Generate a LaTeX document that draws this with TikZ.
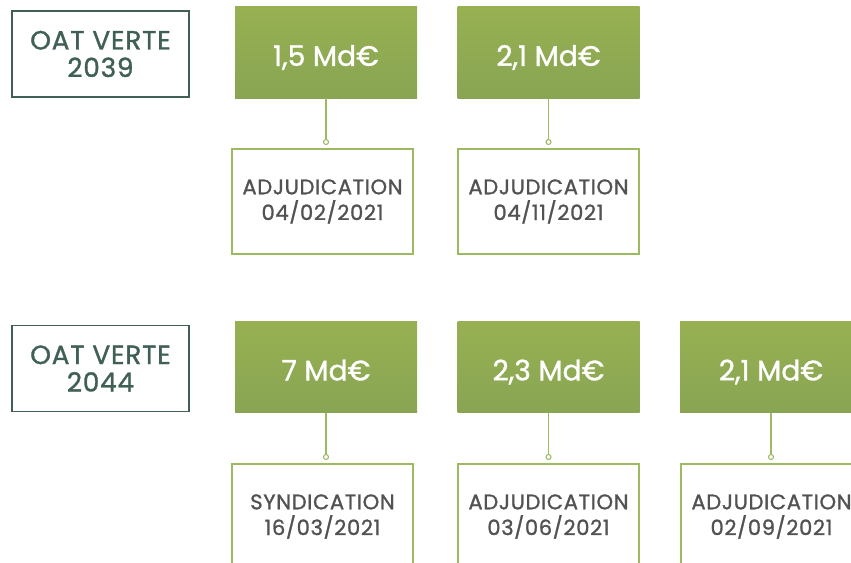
\documentclass[tikz,border=0pt]{standalone}
\usepackage{fontspec}
\setmainfont{Poppins}[FakeBold=1.2]
\newfontfamily\spacedfont{Poppins}[FakeBold=1.2,LetterSpace=3]
\definecolor{oatteal}{HTML}{3F5F57}
\definecolor{greentop}{HTML}{97B052}
\definecolor{greenbot}{HTML}{89A553}
\definecolor{greenline}{HTML}{9CBA62}
\definecolor{textgray}{HTML}{525252}

\begin{document}
\begin{tikzpicture}[x=0.03cm, y=-0.03cm,
		oat_style/.style={draw=oatteal,line width=1.6pt,text=oatteal,minimum width=5.31cm,minimum height=2.58cm,align=center,font=\spacedfont\fontsize{22.5}{23.5}\selectfont},
		amount_style/.style={top color=greentop,bottom color=greenbot,draw=none,text=white,minimum width=5.46cm,minimum height=2.73cm,text height=0.9cm,text depth=0.1cm,font=\fontsize{24}{26}\selectfont},
		op_style/.style={draw=greenline,line width=1pt,fill=white,text=textgray,minimum width=5.43cm,minimum height=3.15cm,align=center,font=\spacedfont\fontsize{18}{22}\selectfont},
		dot_style/.style={circle,draw=greenline,fill=white,line width=0.9pt,inner sep=0pt,minimum size=0.15cm},
		edge_style/.style={draw=greenline,line width=1.4pt}]
		
		\useasboundingbox (0,0) rectangle (851,562);
		\clip (0,0) rectangle (851,562);
		
		% OAT verte 2039
		\node[oat_style] (o1) at (100.5,54)  {OAT VERTE\\2039};
		\node[amount_style] (a1) at (326,52.5)  {1,5 Md€};
		\node[amount_style] (a2) at (548.5,52.5)  {2,1 Md€};
		\node[op_style] (p1) at (322.5,201.5)  {ADJUDICATION\\04/02/2021};
		\node[op_style] (p2) at (548.5,201.5)  {ADJUDICATION\\04/11/2021};
		\node[dot_style] (d1) at (326,142)  {};
		\node[dot_style] (d2) at (548.5,142)  {};
		
		% OAT verte 2044
		\node[oat_style] (o2) at (100.5,368.5)  {OAT VERTE\\2044};
		\node[amount_style] (a3) at (326,367)  {7 Md€};
		\node[amount_style] (a4) at (548.5,367)  {2,3 Md€};
		\node[amount_style] (a5) at (771,367)  {2,1 Md€};
		\node[op_style] (p3) at (322.5,516.5)  {SYNDICATION\\16/03/2021};
		\node[op_style] (p4) at (548.5,516.5)  {ADJUDICATION\\03/06/2021};
		\node[op_style] (p5) at (771.5,516.5)  {ADJUDICATION\\02/09/2021};
		\node[dot_style] (d3) at (326,457)  {};
		\node[dot_style] (d4) at (548.5,457)  {};
		\node[dot_style] (d5) at (771,457)  {};
		
		\draw[edge_style]  (a1) edge (d1);
		\draw[edge_style]  (a2) edge (d2);
		\draw[edge_style]  (a3) edge (d3);
		\draw[edge_style]  (a4) edge (d4);
		\draw[edge_style]  (a5) edge (d5);
		
\end{tikzpicture}
\end{document}
